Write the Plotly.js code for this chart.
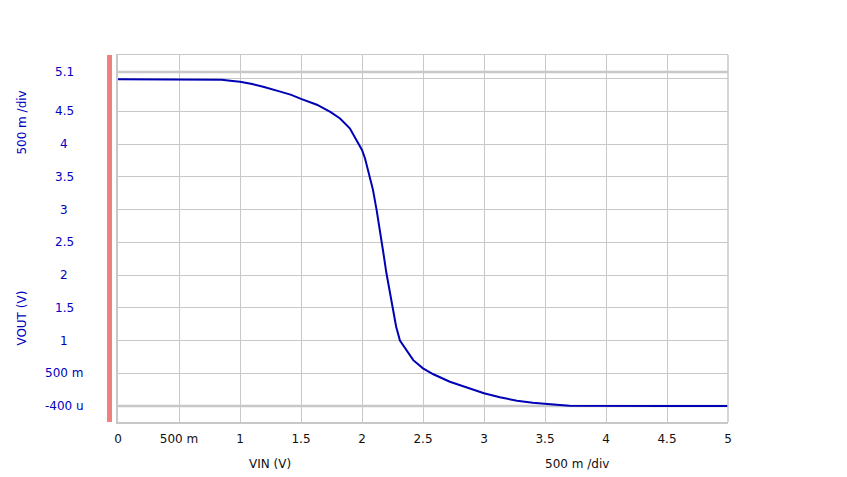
<!DOCTYPE html>
<html>
<head>
<meta charset="utf-8">
<script src="https://cdn.plot.ly/plotly-3.0.1.min.js"></script>
<style>html,body{margin:0;padding:0;background:#fff;}#chart{width:847px;height:477px;}</style>
</head>
<body>
<div id="chart"></div>
<script>
// Data
var vin  = [0, 0.6, 0.75, 0.85, 0.92, 1.0, 1.1, 1.19, 1.33, 1.42, 1.5, 1.63, 1.74, 1.82, 1.9, 1.955, 2.0, 2.025, 2.065, 2.09, 2.12, 2.15, 2.175, 2.2, 2.23, 2.257, 2.28, 2.311, 2.366, 2.42, 2.5, 2.585, 2.72, 2.86, 3.0, 3.13, 3.27, 3.4, 3.5, 3.62, 3.7, 4.0, 4.5, 5.0];
var vout = [4.99, 4.99, 4.99, 4.98, 4.966, 4.95, 4.915, 4.875, 4.80, 4.75, 4.69, 4.60, 4.49, 4.39, 4.24, 4.06, 3.91, 3.78, 3.48, 3.30, 2.99, 2.66, 2.34, 2.03, 1.73, 1.47, 1.21, 1.00, 0.855, 0.70, 0.575, 0.485, 0.37, 0.285, 0.194, 0.133, 0.081, 0.05, 0.03, 0.015, 0.005, 0.0, 0.0, 0.0];

var xTickVals = [0, 0.5, 1, 1.5, 2, 2.5, 3, 3.5, 4, 4.5, 5];
var xTickText = ["0", "500 m", "1", "1.5", "2", "2.5", "3", "3.5", "4", "4.5", "5"];
var yGridVals = [0, 0.5, 1, 1.5, 2, 2.5, 3, 3.5, 4, 4.5, 5];
var yLabelVals = [-0.0004, 0.5, 1, 1.5, 2, 2.5, 3, 3.5, 4, 4.5, 5.1];
var yLabelText = ["-400 u", "500 m", "1", "1.5", "2", "2.5", "3", "3.5", "4", "4.5", "5.1"];
var cursorLevels = [5.1, -0.0004];
var xRange = [0, 5];
var yRange = [-0.244, 5.359];

var FONT = "DejaVu Sans, Verdana, sans-serif";
var BLUE = "#0000c0";
var GRID = "#c8c8c8";

var traces = [];
cursorLevels.forEach(function (lv) {
  traces.push({
    x: xRange, y: [lv, lv], mode: "lines", type: "scatter",
    line: {color: GRID, width: 2.5}, hoverinfo: "skip", showlegend: false
  });
});
traces.push({
  x: vin, y: vout, mode: "lines", type: "scatter",
  line: {color: "#0000b4", width: 2}, showlegend: false
});

var annotations = yLabelVals.map(function (v, i) {
  return {
    x: -0.0885, xref: "paper", xanchor: "center",
    y: v, yref: "y", yanchor: "middle",
    text: yLabelText[i], showarrow: false,
    font: {family: FONT, size: 12, color: BLUE}
  };
});
annotations.push({
  x: -0.158, xref: "paper", y: (422 - 123) / 367, yref: "paper", yanchor: "middle", xanchor: "center",
  text: "500 m /div", textangle: -90, showarrow: false,
  font: {family: FONT, size: 12, color: BLUE}
});
annotations.push({
  x: -0.158, xref: "paper", y: (422 - 318) / 367, yref: "paper", yanchor: "middle", xanchor: "center",
  text: "VOUT (V)", textangle: -90, showarrow: false,
  font: {family: FONT, size: 12, color: BLUE}
});
annotations.push({
  x: (270 - 118) / 610, xref: "paper", y: -(464 - 422) / 367, yref: "paper", yanchor: "middle", xanchor: "center",
  text: "VIN (V)", showarrow: false,
  font: {family: FONT, size: 12, color: "#101010"}
});
annotations.push({
  x: (577 - 118) / 610, xref: "paper", y: -(464 - 422) / 367, yref: "paper", yanchor: "middle", xanchor: "center",
  text: "500 m /div", showarrow: false,
  font: {family: FONT, size: 12, color: "#101010"}
});

var layout = {
  width: 847, height: 477,
  margin: {l: 118, r: 119, t: 55, b: 55, pad: 0},
  paper_bgcolor: "#ffffff", plot_bgcolor: "#ffffff",
  showlegend: false,
  xaxis: {
    range: xRange, tickmode: "array", tickvals: xTickVals, ticktext: xTickText,
    showgrid: true, gridcolor: GRID, gridwidth: 1, zeroline: false,
    showline: true, mirror: true, linecolor: GRID, linewidth: 1.5,
    ticks: "", ticklabelstandoff: 5,
    tickfont: {family: FONT, size: 12, color: "#101010"}
  },
  yaxis: {
    range: yRange, tickmode: "array", tickvals: yGridVals, showticklabels: false,
    showgrid: true, gridcolor: GRID, gridwidth: 1, zeroline: false,
    showline: true, linecolor: GRID, linewidth: 2.5, ticks: ""
  },
  shapes: [
    {type: "rect", xref: "paper", yref: "paper", x0: -0.018, x1: -0.0098, y0: 0, y1: 1,
     fillcolor: "#f08080", line: {width: 0}},
    {type: "line", xref: "paper", yref: "paper", x0: 1, x1: 1, y0: 0, y1: 1,
     line: {color: GRID, width: 1.5}}
  ],
  annotations: annotations
};

Plotly.newPlot("chart", traces, layout, {displayModeBar: false, staticPlot: true});
</script>
</body>
</html>
